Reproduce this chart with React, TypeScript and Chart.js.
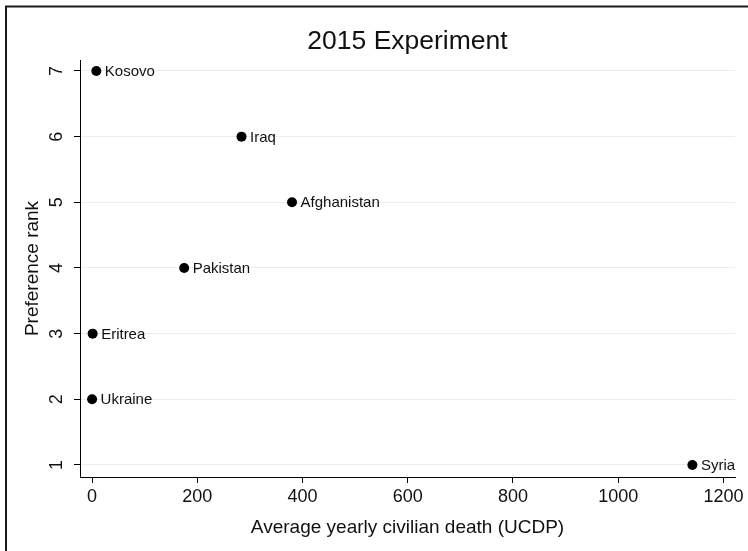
import React, { useEffect, useRef } from "react";
import { Chart, registerables } from "chart.js";

Chart.register(...registerables);

const countries = ["Kosovo", "Iraq", "Afghanistan", "Pakistan", "Eritrea", "Ukraine", "Syria"];
const deaths = [8, 284, 380, 175, 1, 0, 1141];
const ranks = [7, 6, 5, 4, 3, 2, 1];
const xTicks = [0, 200, 400, 600, 800, 1000, 1200];
const yTicks = [1, 2, 3, 4, 5, 6, 7];
const titleText = "2015 Experiment";
const xTitle = "Average yearly civilian death (UCDP)";
const yTitle = "Preference rank";

const FONT = '"Liberation Sans", Arial, Helvetica, sans-serif';

export default function App() {
  const ref = useRef<HTMLCanvasElement | null>(null);

  useEffect(() => {
    document.body.style.margin = "0";
    const canvas = ref.current!;
    const custom = {
      id: "custom",
      afterDraw(chart: any) {
        const ctx = chart.ctx as CanvasRenderingContext2D;
        const xs = chart.scales.x;
        const ys = chart.scales.y;
        const area = chart.chartArea;
        ctx.save();
        // outer frame
        ctx.strokeStyle = "#1a1a1a";
        ctx.lineWidth = 2;
        ctx.strokeRect(6, 6.5, 900, 700);
        ctx.fillStyle = "#111";
        // title
        ctx.font = `26.5px ${FONT}`;
        ctx.textAlign = "center";
        ctx.textBaseline = "alphabetic";
        ctx.fillText(titleText, 407.5, 48.5);
        ctx.textBaseline = "middle";
        // x tick labels
        ctx.font = `18px ${FONT}`;
        xTicks.forEach((v) => {
          ctx.fillText(String(v), xs.getPixelForValue(v), 497);
        });
        // y tick labels rotated
        yTicks.forEach((v) => {
          ctx.save();
          ctx.translate(57, ys.getPixelForValue(v));
          ctx.rotate(-Math.PI / 2);
          ctx.fillText(String(v), 0, 0);
          ctx.restore();
        });
        // x title
        ctx.font = `19px ${FONT}`;
        ctx.fillText(xTitle, (area.left + area.right) / 2, 528);
        // y title
        ctx.save();
        ctx.translate(33, (area.top + area.bottom) / 2);
        ctx.rotate(-Math.PI / 2);
        ctx.fillText(yTitle, 0, 0);
        ctx.restore();
        // point labels
        const meta = chart.getDatasetMeta(0);
        ctx.font = `15px ${FONT}`;
        ctx.textAlign = "left";
        meta.data.forEach((pt: any, i: number) => {
          ctx.fillText(countries[i], pt.x + 8.5, pt.y + 1);
        });
        ctx.restore();
      },
    };

    const chart = new Chart(canvas, {
      type: "scatter",
      data: {
        datasets: [
          {
            data: deaths.map((d, i) => ({ x: d, y: ranks[i] })),
            pointRadius: 5,
            pointHoverRadius: 5,
            backgroundColor: "#000",
            borderColor: "#000",
            borderWidth: 0,
          },
        ],
      },
      options: {
        animation: false,
        responsive: false,
        events: [],
        layout: { padding: { top: 60, right: 13, left: 0, bottom: 0 } },
        plugins: { legend: { display: false }, tooltip: { enabled: false }, title: { display: false } },
        scales: {
          x: {
            type: "linear",
            min: -23,
            max: 1222,
            afterBuildTicks: (s: any) => {
              s.ticks = xTicks.map((v) => ({ value: v }));
            },
            afterFit: (s: any) => {
              s.height = 74;
            },
            ticks: { display: false },
            grid: { drawOnChartArea: false, drawTicks: true, tickLength: 6, tickColor: "#000", tickWidth: 1 },
            border: { display: true, color: "#000", width: 1 },
          },
          y: {
            type: "linear",
            min: 0.817,
            max: 7.167,
            afterBuildTicks: (s: any) => {
              s.ticks = yTicks.map((v) => ({ value: v }));
            },
            afterFit: (s: any) => {
              s.width = 80;
            },
            ticks: { display: false },
            grid: { drawOnChartArea: true, color: "#e6eef0", lineWidth: 1, drawTicks: true, tickLength: 6, tickColor: "#000", tickWidth: 1 },
            border: { display: true, color: "#000", width: 1 },
          },
        },
      },
      plugins: [custom],
    });
    return () => chart.destroy();
  }, []);

  return (
    <div style={{ position: "absolute", left: 0, top: 0, width: 748, height: 551, background: "#fff" }}>
      <canvas ref={ref} width={748} height={551} style={{ display: "block", width: 748, height: 551 }} />
    </div>
  );
}
